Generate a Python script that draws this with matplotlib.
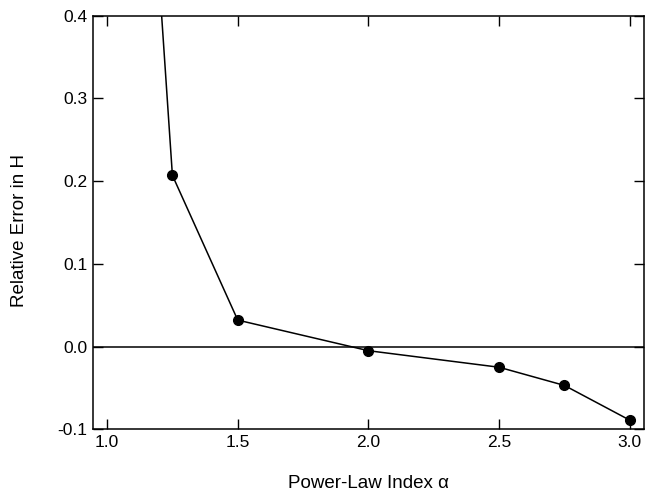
import matplotlib
matplotlib.use("Agg")
import matplotlib.pyplot as plt

# power-law index vs relative error in H
alpha = [1.1, 1.25, 1.5, 2.0, 2.5, 2.75, 3.0]
rel_err = [0.91, 0.207, 0.032, -0.005, -0.025, -0.047, -0.089]

xticks = [1.0, 1.5, 2.0, 2.5, 3.0]
yticks = [-0.1, 0.0, 0.1, 0.2, 0.3, 0.4]

plt.rcParams['font.family'] = ['Liberation Sans', 'DejaVu Sans']

fig = plt.figure(figsize=(6.45, 4.91), dpi=100)
ax = fig.add_axes([0.1437, 0.1257, 0.855, 0.8423])

ax.axhline(0.0, color='black', lw=1.1)
ax.plot(alpha, rel_err, color='black', lw=1.1, marker='o', markersize=7)

ax.set_xlim(0.945, 3.055)
ax.set_ylim(-0.1, 0.4)
ax.set_xticks(xticks)
ax.set_xticklabels(['%.1f' % v for v in xticks])
ax.set_yticks(yticks)
ax.set_yticklabels(['%.1f' % v for v in yticks])
ax.tick_params(direction='in', length=7, width=1, top=True, right=True,
               labelsize=12.5, pad=4)
for s in ax.spines.values():
    s.set_linewidth(1.1)

ax.set_xlabel('Power-Law Index α', fontsize=13.5, labelpad=18)
ax.set_ylabel('Relative Error in H', fontsize=13.5)
ax.yaxis.set_label_coords(-0.118, 0.48)

fig.savefig('out.png', dpi=100)
